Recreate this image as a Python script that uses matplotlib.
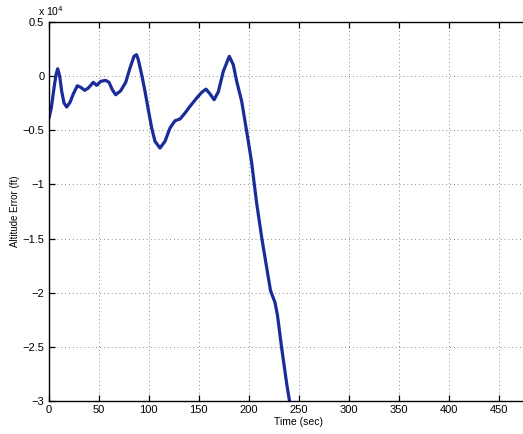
import matplotlib
matplotlib.use("Agg")
import matplotlib.pyplot as plt
from matplotlib.ticker import FuncFormatter, MultipleLocator

# altitude error trace, time in seconds and error in feet
time_sec = [0.5, 2.8, 5.5, 7.5, 9.2, 11.2, 13.2, 15.5, 18.2, 21.5, 24.8,
            28.8, 32.2, 36.2, 39.8, 44.8, 48.2, 52.2, 57.2, 60.5, 63.8, 67.2,
            72.2, 77.2, 81.5, 85.5, 88.0, 89.8, 93.2, 96.5, 99.8, 103.2,
            106.5, 111.5, 116.5, 121.5, 126.5, 131.5, 136.5, 141.5, 148.2,
            153.2, 157.5, 161.5, 165.6, 169.8, 174.8, 180.8, 184.8, 188.2,
            193.2, 196.5, 199.8, 203.2, 205.0, 208.2, 213.2, 217.5, 222.0,
            226.5, 229.0, 233.0, 238.2, 241.0, 245.0]
alt_err_ft = [-3870, -2950, -1100, 130, 680, -20, -1400, -2480, -2850, -2420,
              -1650, -890, -1030, -1310, -1100, -570, -850, -480, -390, -570,
              -1250, -1720, -1350, -570, 750, 1830, 1980, 1520, 130, -1400,
              -3100, -4790, -6020, -6640, -6020, -4790, -4120, -3960, -3410,
              -2790, -2020, -1500, -1200, -1640, -2180, -1450, 440, 1830, 1050,
              -480, -2330, -4170, -6020, -8000, -9400, -11750, -14900, -17300,
              -19800, -20900, -22100, -25000, -28400, -30000, -32500]

x_ticks = [0, 50, 100, 150, 200, 250, 300, 350, 400, 450]

plt.rcParams['font.family'] = ['Liberation Sans', 'DejaVu Sans']

fig = plt.figure(figsize=(5.23, 4.34), dpi=100)
# plot area runs past the right edge of the figure (xlim ends at 500)
ax = fig.add_axes([48.5 / 523, 33 / 434, 500 / 523, 379 / 434])

ax.plot(time_sec, alt_err_ft, color='#1a2b9a', lw=2.3,
        solid_joinstyle='round', solid_capstyle='round')

ax.set_xlim(0, 500)
ax.set_ylim(-30000, 5000)
ax.set_xticks(x_ticks)
ax.yaxis.set_major_locator(MultipleLocator(5000))
ax.yaxis.set_major_formatter(
    FuncFormatter(lambda v, p: f'{v / 1e4:g}'.replace('-', '\u2212')))

ax.grid(True, linestyle=(0, (1, 3)), color='#8a8a8a', lw=0.7)
ax.tick_params(direction='in', length=4, width=0.9, top=True, right=False,
               labelsize=8, pad=3, colors='black')
ax.spines['right'].set_visible(False)
for s in ax.spines.values():
    s.set_linewidth(1.0)

ax.set_xlabel('Time (sec)', fontsize=7.5, labelpad=1)
ax.set_ylabel('Altitude Error (ft)', fontsize=7, labelpad=2)
fig.text(38 / 523, 1 - 11 / 434, r'x 10$^4$', fontsize=7.5, va='center')

fig.savefig('out.png', dpi=100)
